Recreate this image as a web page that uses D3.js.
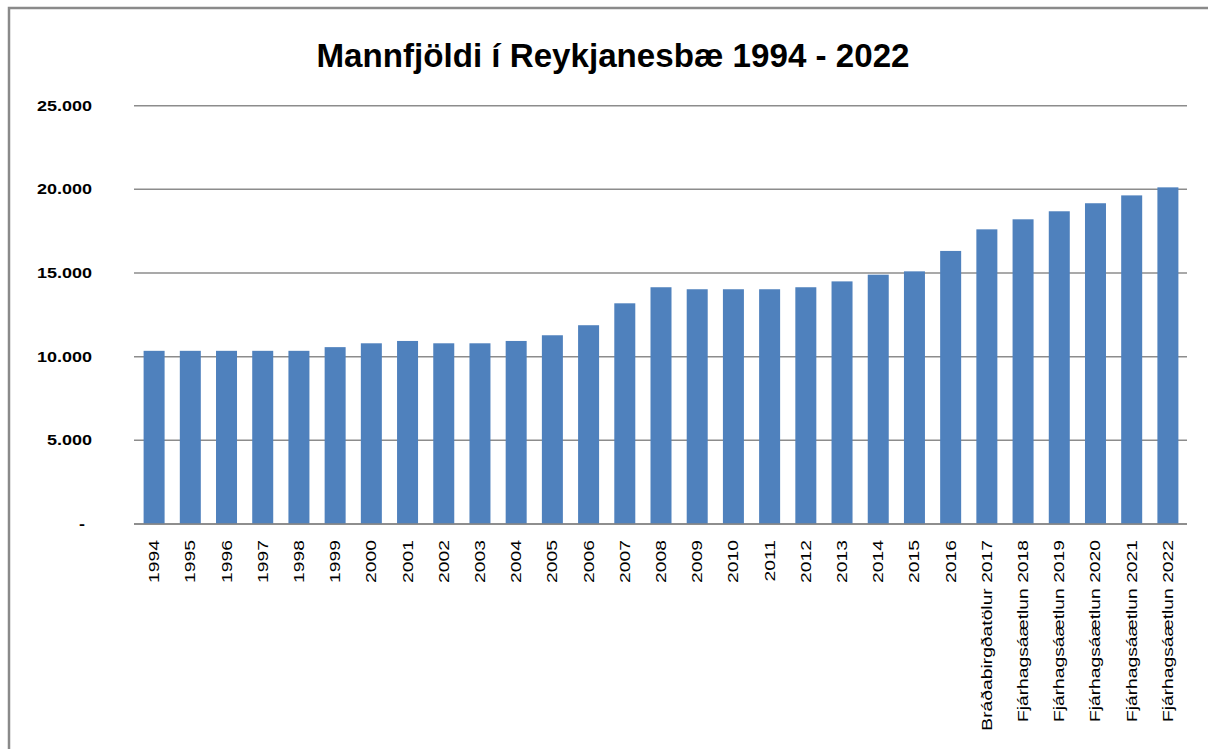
<!DOCTYPE html>
<meta charset="utf-8">
<style>
body { margin: 0; background: #fff; }
text { font-family: "Liberation Sans", Arial, sans-serif; fill: #000; }
.grid line { stroke: #8c8c8c; stroke-width: 1.5px; }
.bars rect { fill: #4f81bd; }
</style>
<svg width="1208" height="749"></svg>
<script src="https://d3js.org/d3.v7.min.js"></script>
<script>

var years = ["1994","1995","1996","1997","1998","1999","2000","2001","2002","2003",
             "2004","2005","2006","2007","2008","2009","2010","2011","2012","2013",
             "2014","2015","2016","Bráðabirgðatölur 2017","Fjárhagsáætlun 2018",
             "Fjárhagsáætlun 2019","Fjárhagsáætlun 2020","Fjárhagsáætlun 2021",
             "Fjárhagsáætlun 2022"];

var population = [10350, 10350, 10350, 10350, 10350, 10570, 10800, 10940, 10800, 10800,
                  10940, 11280, 11880, 13190, 14150, 14030, 14030, 14030, 14150, 14500,
                  14900, 15100, 16320, 17610, 18210, 18690, 19170, 19640, 20120];

var yTicks = [0, 5000, 10000, 15000, 20000, 25000];

var title = "Mannfjöldi í Reykjanesbæ 1994 - 2022";

var svg = d3.select("svg");

// chart frame (runs off the right and bottom of the picture)
svg.append("path")
    .attr("d", "M9,749 V8 H1208")
    .attr("fill", "none")
    .attr("stroke", "#8a8a8a")
    .attr("stroke-width", 2.5);

var x = d3.scaleBand()
    .domain(years)
    .range([136, 1186])
    .paddingInner(0.42)
    .paddingOuter(0.21);

var y = d3.scaleLinear()
    .domain([0, 25000])
    .range([524, 105.7]);

var fmt = function(d) {
  return d === 0 ? "-" : d3.format(",")(d).replace(/,/g, ".");
};

// gridlines
svg.append("g")
    .attr("class", "grid")
  .selectAll("line")
  .data(yTicks)
  .enter().append("line")
    .attr("x1", 134)
    .attr("x2", 1187)
    .attr("y1", function(d) { return y(d); })
    .attr("y2", function(d) { return y(d); });

// bars
svg.append("g")
    .attr("class", "bars")
  .selectAll("rect")
  .data(population)
  .enter().append("rect")
    .attr("x", function(d, i) { return x(years[i]); })
    .attr("width", x.bandwidth())
    .attr("y", function(d) { return y(d); })
    .attr("height", function(d) { return y(0) - y(d); });

// x axis line
svg.append("line")
    .attr("x1", 134).attr("x2", 1187)
    .attr("y1", y(0)).attr("y2", y(0))
    .attr("stroke", "#868686")
    .attr("stroke-width", 1.5);

// y labels
svg.append("g")
  .selectAll("text")
  .data(yTicks)
  .enter().append("text")
    .attr("text-anchor", "end")
    .attr("font-weight", "bold")
    .attr("font-size", 15)
    .attr("transform", function(d) {
      return "translate(" + (d === 0 ? 85 : 92) + "," + (y(d) + 5) + ") scale(1.2,1)";
    })
    .text(fmt);

// x labels, rotated
svg.append("g")
  .selectAll("text")
  .data(years)
  .enter().append("text")
    .attr("text-anchor", "end")
    .attr("font-size", 14.5)
    .attr("transform", function(d) {
      return "translate(" + (x(d) + x.bandwidth() / 2 + 5) + ",540) rotate(-90) scale(1.33,1)";
    })
    .text(function(d) { return d; });

// title
svg.append("text")
    .attr("x", 613)
    .attr("y", 67)
    .attr("text-anchor", "middle")
    .attr("font-weight", "bold")
    .attr("font-size", 33)
    .attr("textLength", 593)
    .attr("lengthAdjust", "spacingAndGlyphs")
    .text(title);

</script>
